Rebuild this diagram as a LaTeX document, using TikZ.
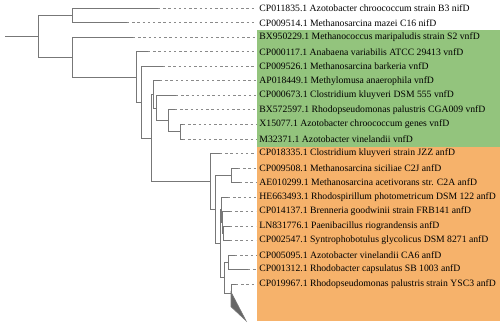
\documentclass[tikz,border=0pt]{standalone}
\usepackage{fontspec}
\setmainfont{Liberation Serif}
\usepackage{tikz}
\usepackage{xcolor}
\definecolor{vnfgreen}{HTML}{93C47D}
\definecolor{anforange}{HTML}{F6B26B}
\definecolor{branchgray}{HTML}{777777}
\definecolor{leadgray}{HTML}{8A8A8A}

\begin{document}
\begin{tikzpicture}[x=1pt, y=-1pt, line width=0.8pt,
  branch/.style={draw=branchgray},
  leader/.style={draw=leadgray, dash pattern=on 2.4pt off 2.8pt, shorten >=3pt},
  leaf/.style={anchor=west, inner sep=0pt, font=\fontsize{9.7}{11}\selectfont}]
\useasboundingbox (0,0) rectangle (500,326);

\fill[vnfgreen] (257,30) rectangle (500,146.5);
\fill[anforange] (257,146.5) rectangle (500,321);

\node[leaf] (t0) at (259,8.4) {CP011835.1 Azotobacter chroococcum strain B3 nifD};
\node[leaf] (t1) at (259,22.9) {CP009514.1 Methanosarcina mazei C16 nifD};
\node[leaf] (t2) at (259,37.4) {BX950229.1 Methanococcus maripaludis strain S2 vnfD};
\node[leaf] (t3) at (259,51.9) {CP000117.1 Anabaena variabilis ATCC 29413 vnfD};
\node[leaf] (t4) at (259,66.4) {CP009526.1 Methanosarcina barkeria vnfD};
\node[leaf] (t5) at (259,80.9) {AP018449.1 Methylomusa anaerophila vnfD};
\node[leaf] (t6) at (259,95.4) {CP000673.1 Clostridium kluyveri DSM 555 vnfD};
\node[leaf] (t7) at (259,109.9) {BX572597.1 Rhodopseudomonas palustris CGA009 vnfD};
\node[leaf] (t8) at (259,124.4) {X15077.1 Azotobacter chroococcum genes vnfD};
\node[leaf] (t9) at (259,138.9) {M32371.1 Azotobacter vinelandii vnfD};
\node[leaf] (t10) at (259,153.4) {CP018335.1 Clostridium kluyveri strain JZZ anfD};
\node[leaf] (t11) at (259,167.9) {CP009508.1 Methanosarcina siciliae C2J anfD};
\node[leaf] (t12) at (259,182.4) {AE010299.1 Methanosarcina acetivorans str. C2A anfD};
\node[leaf] (t13) at (259,196.9) {HE663493.1 Rhodospirillum photometricum DSM 122 anfD};
\node[leaf] (t14) at (259,211.4) {CP014137.1 Brenneria goodwinii strain FRB141 anfD};
\node[leaf] (t15) at (259,225.9) {LN831776.1 Paenibacillus riograndensis anfD};
\node[leaf] (t16) at (259,240.4) {CP002547.1 Syntrophobotulus glycolicus DSM 8271 anfD};
\node[leaf] (t17) at (259,254.9) {CP005095.1 Azotobacter vinelandii CA6 anfD};
\node[leaf] (t18) at (259,269.4) {CP001312.1 Rhodobacter capsulatus SB 1003 anfD};
\node[leaf] (t19) at (259,283.9) {CP019967.1 Rhodopseudomonas palustris strain YSC3 anfD};

\coordinate (e0) at (158,8.4);
\coordinate (e1) at (127,22.9);
\coordinate (e2) at (133,37.4);
\coordinate (e3) at (148,51.9);
\coordinate (e4) at (163,66.4);
\coordinate (e5) at (160,80.9);
\coordinate (e6) at (176,95.4);
\coordinate (e7) at (175,109.9);
\coordinate (e8) at (183,124.4);
\coordinate (e9) at (183,138.9);
\coordinate (e10) at (220,153.4);
\coordinate (e11) at (238,167.9);
\coordinate (e12) at (240,182.4);
\coordinate (e13) at (228,196.9);
\coordinate (e14) at (230,211.4);
\coordinate (e15) at (230,225.9);
\coordinate (e16) at (230,240.4);
\coordinate (e17) at (235,254.9);
\coordinate (e18) at (248,269.4);
\coordinate (e19) at (236,283.9);

\coordinate (nroot) at (5,36.4);
\coordinate (nA) at (38,36.4);
\coordinate (nB) at (72,15.65);
\coordinate (nC) at (72,57.2);
\coordinate (nD) at (136.3,77.05);
\coordinate (nE) at (141.7,102.2);
\coordinate (nF) at (151.7,137.95);
\coordinate (v1) at (153.2,94.5);
\coordinate (v2) at (156,108.1);
\coordinate (v3) at (168,120.8);
\coordinate (v4) at (180,131.65);
\coordinate (a1) at (210.7,181.4);
\coordinate (a2) at (215,209.4);
\coordinate (a3) at (231.7,175.15);
\coordinate (a4) at (220.2,243.65);
\coordinate (a5) at (221.3,209.6);
\coordinate (a6) at (222.3,222.3);
\coordinate (a7) at (223.3,233.15);
\coordinate (a8) at (224.3,277.7);
\coordinate (a9) at (228.3,262.15);
\coordinate (a10) at (231,293.3);
\coordinate (tri) at (231,302.7);

\draw[branch] (nroot) -- (nA);
\draw[branch] (nA) |- (nB);
\draw[branch] (nA) |- (nC);
\draw[branch] (nB) |- (e0);
\draw[branch] (nB) |- (e1);
\draw[branch] (nC) |- (e2);
\draw[branch] (nC) |- (nD);
\draw[branch] (nD) |- (e3);
\draw[branch] (nD) |- (nE);
\draw[branch] (nE) |- (e4);
\draw[branch] (nE) |- (nF);
\draw[branch] (nF) |- (v1);
\draw[branch] (nF) |- (a1);
\draw[branch] (v1) |- (e5);
\draw[branch] (v1) |- (v2);
\draw[branch] (v2) |- (e6);
\draw[branch] (v2) |- (v3);
\draw[branch] (v3) |- (e7);
\draw[branch] (v3) |- (v4);
\draw[branch] (v4) |- (e8);
\draw[branch] (v4) |- (e9);
\draw[branch] (a1) |- (e10);
\draw[branch] (a1) |- (a2);
\draw[branch] (a2) |- (a3);
\draw[branch] (a2) |- (a4);
\draw[branch] (a3) |- (e11);
\draw[branch] (a3) |- (e12);
\draw[branch] (a4) |- (a5);
\draw[branch] (a4) |- (a8);
\draw[branch] (a5) |- (e13);
\draw[branch] (a5) |- (a6);
\draw[branch] (a6) |- (e14);
\draw[branch] (a6) |- (a7);
\draw[branch] (a7) |- (e15);
\draw[branch] (a7) |- (e16);
\draw[branch] (a8) |- (a9);
\draw[branch] (a8) |- (a10);
\draw[branch] (a9) |- (e17);
\draw[branch] (a9) |- (e18);
\draw[branch] (a10) |- (e19);
\draw[branch] (a10) |- (tri);
\filldraw[fill=gray!80!black, draw=branchgray, line width=0.6pt] (231,292) -- (231,306.7) -- (246,320.7) -- cycle;

\draw[leader] (e0) -- (t0.west);
\draw[leader] (e1) -- (t1.west);
\draw[leader] (e2) -- (t2.west);
\draw[leader] (e3) -- (t3.west);
\draw[leader] (e4) -- (t4.west);
\draw[leader] (e5) -- (t5.west);
\draw[leader] (e6) -- (t6.west);
\draw[leader] (e7) -- (t7.west);
\draw[leader] (e8) -- (t8.west);
\draw[leader] (e9) -- (t9.west);
\draw[leader] (e10) -- (t10.west);
\draw[leader] (e11) -- (t11.west);
\draw[leader] (e12) -- (t12.west);
\draw[leader] (e13) -- (t13.west);
\draw[leader] (e14) -- (t14.west);
\draw[leader] (e15) -- (t15.west);
\draw[leader] (e16) -- (t16.west);
\draw[leader] (e17) -- (t17.west);
\draw[leader] (e18) -- (t18.west);
\draw[leader] (e19) -- (t19.west);
\end{tikzpicture}
\end{document}
